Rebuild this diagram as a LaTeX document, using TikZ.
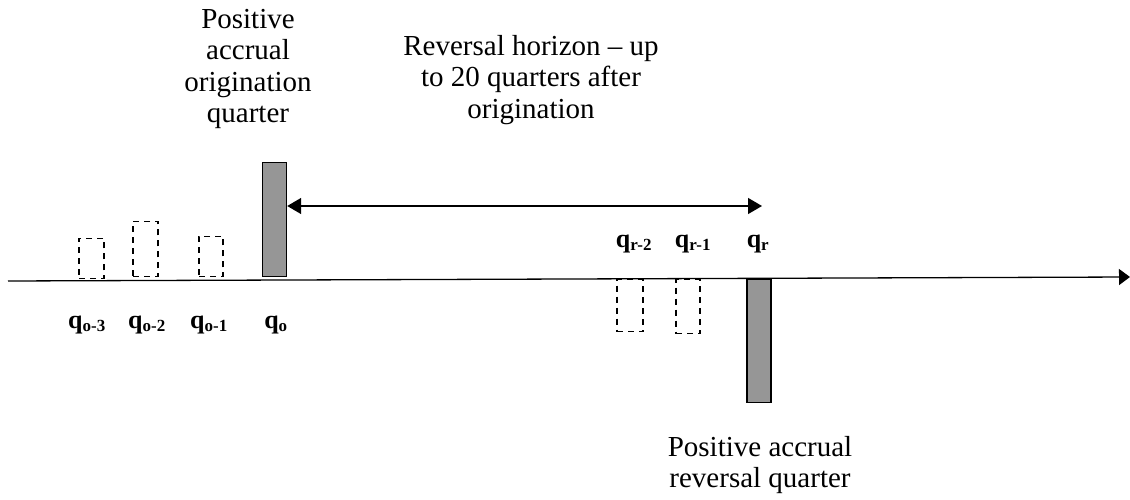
\documentclass[tikz,border=0pt]{standalone}
\usepackage{fontspec}
\setmainfont{Liberation Serif}
\usetikzlibrary{arrows.meta}
\definecolor{bargray}{RGB}{150,150,150}
\tikzset{
  dbox/.style={draw, dashed, dash pattern=on 6pt off 5pt, line width=1.4pt, inner sep=0pt, minimum width=#1},
  sbar/.style={draw, fill=bargray, line width=1.4pt, inner sep=0pt, minimum width=24pt},
  qlab/.style={font=\fontsize{26}{30}\selectfont\bfseries, inner sep=0pt, anchor=base},
  caption/.style={font=\fontsize{29}{31.5}\selectfont, align=center, inner sep=0pt, anchor=north},
}
\newcommand{\ql}[1]{q\textsubscript{\fontsize{17}{20}\selectfont\bfseries #1}}
\begin{document}
\begin{tikzpicture}[x=1pt,y=-1pt]
\useasboundingbox (0,0) rectangle (1130,500);
% axis
\coordinate (axL) at (8,281);
\coordinate (axR) at (1130,277);
\draw[line width=1.3pt, -{Triangle[width=16pt,length=11pt]}] (axL) -- (axR);
% dashed boxes before origination
\node[dbox=25pt, minimum height=40pt, anchor=south] (bo3) at (91.5,279) {};
\node[dbox=25pt, minimum height=55pt, anchor=south] (bo2) at (145.5,277) {};
\node[dbox=24pt, minimum height=40pt, anchor=south] (bo1) at (211,277) {};
% origination bar
\node[sbar, minimum height=114pt, anchor=south] (bo) at (274.5,277) {};
% dashed boxes before reversal
\node[dbox=26pt, minimum height=52pt, anchor=north] (br2) at (630,279) {};
\node[dbox=24pt, minimum height=54pt, anchor=north] (br1) at (688,279) {};
% reversal bar
\node[sbar, minimum height=123pt, anchor=north] (br) at (759,279) {};
% horizon arrow
\coordinate (hend) at (762,206);
\draw[line width=1.4pt, {Triangle[width=16pt,length=14pt]}-{Triangle[width=16pt,length=14pt]}] (bo.east |- hend) -- (hend);
% labels
\node[qlab] (lo3) at (87,328) {\ql{o-3}};
\node[qlab] (lo2) at (147,328) {\ql{o-2}};
\node[qlab] (lo1) at (209,328) {\ql{o-1}};
\node[qlab] (lo) at (276,328) {\ql{o}};
\node[qlab] (lr2) at (634,247) {\ql{r-2}};
\node[qlab] (lr1) at (693,247) {\ql{r-1}};
\node[qlab] (lr) at (758,247) {\ql{r}};
% captions
\node[caption] (corig) at (248,9) {Positive\\accrual\\origination\\quarter};
\node[caption] (chor) at (531,35) {Reversal horizon -- up\\to 20 quarters after\\origination};
\node[caption] (crev) at (760,436) {Positive accrual\\reversal quarter};
\end{tikzpicture}
\end{document}
